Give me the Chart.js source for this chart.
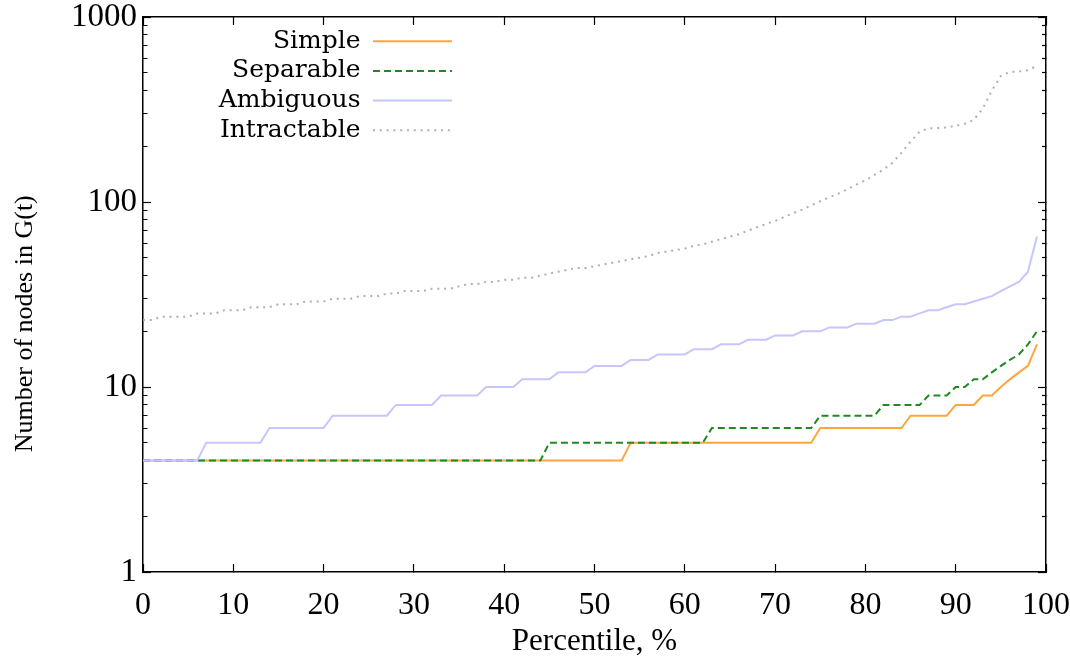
<!DOCTYPE html>
<html>
<head>
<meta charset="utf-8">
<script src="https://cdn.jsdelivr.net/npm/chart.js@4/dist/chart.umd.min.js"></script>
<style>html,body{margin:0;padding:0;background:#fff;}canvas{display:block;}</style>
</head>
<body>
<canvas id="c" width="1070" height="662"></canvas>
<script>
// ---- data ----
const PCT = [
  0,1,2,3,4,5,6,7,8,9,
  10,11,12,13,14,15,16,17,18,19,
  20,21,22,23,24,25,26,27,28,29,
  30,31,32,33,34,35,36,37,38,39,
  40,41,42,43,44,45,46,47,48,49,
  50,51,52,53,54,55,56,57,58,59,
  60,61,62,63,64,65,66,67,68,69,
  70,71,72,73,74,75,76,77,78,79,
  80,81,82,83,84,85,86,87,88,89,
  90,91,92,93,94,95,96,97,98,99
];
const SIMPLE = [
  4,4,4,4,4,4,4,4,4,4,
  4,4,4,4,4,4,4,4,4,4,
  4,4,4,4,4,4,4,4,4,4,
  4,4,4,4,4,4,4,4,4,4,
  4,4,4,4,4,4,4,4,4,4,
  4,4,4,4,5,5,5,5,5,5,
  5,5,5,5,5,5,5,5,5,5,
  5,5,5,5,5,6,6,6,6,6,
  6,6,6,6,6,7,7,7,7,7,
  8,8,8,9,9,10,11,12,13,17
];
const SEPARABLE = [
  4,4,4,4,4,4,4,4,4,4,
  4,4,4,4,4,4,4,4,4,4,
  4,4,4,4,4,4,4,4,4,4,
  4,4,4,4,4,4,4,4,4,4,
  4,4,4,4,4,5,5,5,5,5,
  5,5,5,5,5,5,5,5,5,5,
  5,5,5,6,6,6,6,6,6,6,
  6,6,6,6,6,7,7,7,7,7,
  7,7,8,8,8,8,8,9,9,9,
  10,10,11,11,12,13,14,15,17,20
];
const AMBIGUOUS = [
  4,4,4,4,4,4,4,5,5,5,
  5,5,5,5,6,6,6,6,6,6,
  6,7,7,7,7,7,7,7,8,8,
  8,8,8,9,9,9,9,9,10,10,
  10,10,11,11,11,11,12,12,12,12,
  13,13,13,13,14,14,14,15,15,15,
  15,16,16,16,17,17,17,18,18,18,
  19,19,19,20,20,20,21,21,21,22,
  22,22,23,23,24,24,25,26,26,27,
  28,28,29,30,31,33,35,37,42,65
];
const INTRACTABLE = [
  23,23,24,24,24,24,25,25,25,26,
  26,26,27,27,27,28,28,28,29,29,
  29,30,30,30,31,31,31,32,32,33,
  33,33,34,34,34,35,36,36,37,37,
  38,38,39,39,40,41,42,43,44,44,
  45,46,47,48,49,50,51,53,54,55,
  56,58,59,61,63,65,67,70,73,76,
  79,83,87,91,96,101,106,111,117,124,
  131,140,150,163,185,212,240,250,251,253,
  258,265,278,320,400,480,505,508,515,545
];
const SERIES_NAMES = ['Simple', 'Separable', 'Ambiguous', 'Intractable'];
const X_TICKS = [0,10,20,30,40,50,60,70,80,90,100];
const Y_MAJOR = [1,10,100,1000];
const Y_TICKS = [1,2,3,4,5,6,7,8,9,10,20,30,40,50,60,70,80,90,100,200,300,400,500,600,700,800,900,1000];
const X_TITLE = 'Percentile, %';
const Y_TITLE = 'Number of nodes in G(t)';

// ---- chart ----
const pts = arr => arr.map((v, i) => ({x: PCT[i], y: v}));
const isMajor = v => Y_MAJOR.includes(v);
// trailing no-break spaces move the rotated title along the axis, as in the reference
const Y_TITLE_SHIFTED = Y_TITLE + '\u00A0'.repeat(9);

const gridBase = {
  drawOnChartArea: false,
  drawTicks: true,
  tickLength: -8,
  tickColor: '#000',
  tickWidth: 1.2
};
const borderBase = {display: true, color: '#000', width: 1.5};
const noPad = s => { s.paddingLeft = 0; s.paddingRight = 0; s.paddingTop = 0; s.paddingBottom = 0; };

const legendAnchor = {
  id: 'legendAnchor',
  afterLayout(chart) {
    const lg = chart.legend;
    if (!lg) return;
    const pad = lg.options.labels.padding;
    const w = lg.width;
    lg.left = 452 + pad - w;
    lg.right = lg.left + w;
    lg.top = 24;
    lg.bottom = 24 + 400;
  }
};

Chart.defaults.color = '#000';

new Chart(document.getElementById('c'), {
  type: 'line',
  data: {
    datasets: [
      {label: SERIES_NAMES[0], data: pts(SIMPLE), borderColor: '#ffa540', backgroundColor: '#ffa540', borderWidth: 2, order: 3},
      {label: SERIES_NAMES[1], data: pts(SEPARABLE), borderColor: '#1f8a1f', backgroundColor: '#1f8a1f', borderWidth: 2, borderDash: [7, 4], order: 2},
      {label: SERIES_NAMES[2], data: pts(AMBIGUOUS), borderColor: '#c6c6ff', backgroundColor: '#c6c6ff', borderWidth: 2, order: 1},
      {label: SERIES_NAMES[3], data: pts(INTRACTABLE), borderColor: '#b0b0b0', backgroundColor: '#b0b0b0', borderWidth: 2, borderDash: [2, 4.8], order: 0}
    ]
  },
  options: {
    responsive: false,
    animation: false,
    devicePixelRatio: 1,
    layout: {padding: 0},
    elements: {point: {radius: 0, hoverRadius: 0}, line: {tension: 0, fill: false}},
    plugins: {
      tooltip: {enabled: false},
      legend: {
        position: 'chartArea',
        align: 'start',
        rtl: true,
        labels: {
          usePointStyle: true,
          pointStyle: 'line',
          pointStyleWidth: 79,
          boxHeight: 25,
          padding: 4.7,
          color: '#000',
          font: {family: 'DejaVu Serif', size: 25},
          sort: (a, b) => a.datasetIndex - b.datasetIndex,
          generateLabels: chart => {
            const items = Chart.defaults.plugins.legend.labels.generateLabels(chart);
            items.forEach(it => {
              const ds = chart.data.datasets[it.datasetIndex];
              it.lineDash = ds.borderDash || [];
              it.lineWidth = ds.borderWidth;
              it.strokeStyle = ds.borderColor;
            });
            return items;
          }
        }
      }
    },
    scales: {
      x: {
        type: 'linear', position: 'bottom', min: 0, max: 100,
        afterBuildTicks: s => { s.ticks = X_TICKS.map(v => ({value: v})); },
        afterFit: s => { s.height = 90; noPad(s); },
        ticks: {autoSkip: false, maxRotation: 0, minRotation: 0, padding: 26, color: '#000',
                font: {family: 'Liberation Serif', size: 32, lineHeight: 1}},
        grid: gridBase,
        border: borderBase,
        title: {display: true, text: X_TITLE, color: '#000',
                font: {family: 'Liberation Serif', size: 31}, padding: {top: 0, bottom: 2}}
      },
      x2: {
        type: 'linear', axis: 'x', position: 'top', min: 0, max: 100,
        afterBuildTicks: s => { s.ticks = X_TICKS.map(v => ({value: v})); },
        afterFit: s => { s.height = 17; noPad(s); },
        ticks: {display: false},
        grid: gridBase,
        border: borderBase
      },
      y: {
        type: 'logarithmic', position: 'left', min: 1, max: 1000,
        afterBuildTicks: s => { s.ticks = Y_TICKS.map(v => ({value: v, major: isMajor(v)})); },
        afterFit: s => { s.width = 143; noPad(s); },
        ticks: {autoSkip: false, padding: 14, color: '#000',
                font: {family: 'Liberation Serif', size: 33, lineHeight: 1},
                callback: v => isMajor(v) ? String(v) : ''},
        grid: Object.assign({}, gridBase, {
          tickBorderDash: c => isMajor(c.tick.value) ? [] : [0, 3.5, 4.5, 100]
        }),
        border: borderBase,
        title: {display: true, text: Y_TITLE_SHIFTED, color: '#000',
                font: {family: 'Liberation Serif', size: 26}, padding: {top: 9.5, bottom: 0}}
      },
      y2: {
        type: 'logarithmic', axis: 'y', position: 'right', min: 1, max: 1000,
        afterBuildTicks: s => { s.ticks = Y_TICKS.map(v => ({value: v, major: isMajor(v)})); },
        afterFit: s => { s.width = 24; noPad(s); },
        ticks: {display: false},
        grid: Object.assign({}, gridBase, {
          tickBorderDash: c => isMajor(c.tick.value) ? [] : [4.5, 100]
        }),
        border: borderBase
      }
    }
  },
  plugins: [legendAnchor]
});
</script>
</body>
</html>
